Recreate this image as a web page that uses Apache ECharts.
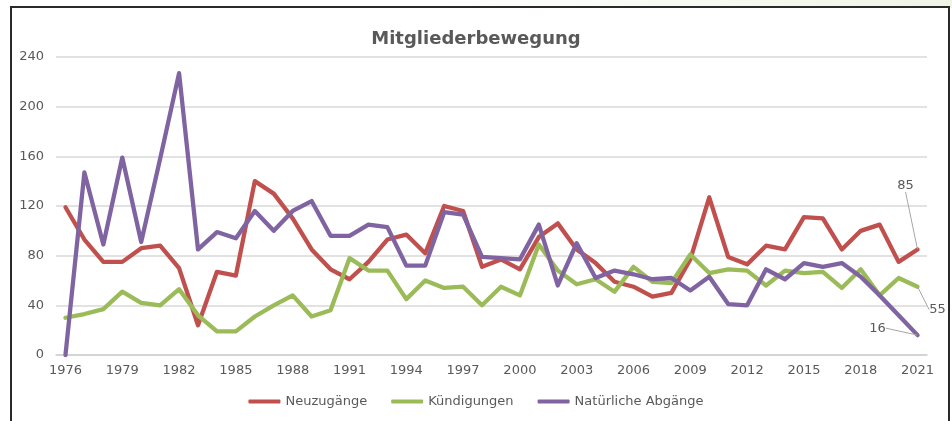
<!DOCTYPE html>
<html>
<head>
<meta charset="utf-8">
<script src="https://cdn.jsdelivr.net/npm/echarts@6/dist/echarts.min.js"></script>
<style>
  html, body { margin: 0; padding: 0; width: 952px; height: 421px; overflow: hidden; background: #fff; }
  #topband { position: absolute; left: 0; top: 0; width: 952px; height: 8px;
    background: linear-gradient(to right, #ffffff 0%, #ffffff 45%, #eef5e5 100%); }
  #frame { position: absolute; left: 10px; top: 6px; width: 936px; height: 430px;
    border: 2px solid #2a2a2a; background: #fff; }
  #chart { position: absolute; left: 0; top: 0; width: 952px; height: 421px; }
</style>
</head>
<body>
<div id="topband"></div>
<div id="frame"></div>
<div id="chart"></div>
<script>
const years = ['1976', '1977', '1978', '1979', '1980', '1981', '1982', '1983', '1984', '1985',
    '1986', '1987', '1988', '1989', '1990', '1991', '1992', '1993', '1994', '1995',
    '1996', '1997', '1998', '1999', '2000', '2001', '2002', '2003', '2004', '2005',
    '2006', '2007', '2008', '2009', '2010', '2011', '2012', '2013', '2014', '2015',
    '2016', '2017', '2018', '2019', '2020', '2021']
const neuzugaenge = [119, 93, 75, 75, 86, 88, 70, 24, 67, 64,
    140, 130, 110, 85, 69, 61, 75, 93, 97, 82,
    120, 116, 71, 77, 69, 95, 106, 85, 74, 59,
    55, 47, 50, 77, 127, 79, 73, 88, 85, 111,
    110, 85, 100, 105, 75, 85]
const kuendigungen = [30, 33, 37, 51, 42, 40, 53, 32, 19, 19,
    31, 40, 48, 31, 36, 78, 68, 68, 45, 60,
    54, 55, 40, 55, 48, 89, 68, 57, 61, 51,
    71, 59, 58, 81, 66, 69, 68, 56, 68, 66,
    67, 54, 69, 48, 62, 55]
const abgaenge = [0, 147, 89, 159, 91, 158, 227, 85, 99, 94,
    116, 100, 116, 124, 96, 96, 105, 103, 72, 72,
    115, 113, 79, 78, 77, 105, 56, 90, 62, 68,
    65, 61, 62, 52, 63, 41, 40, 69, 61, 74,
    71, 74, 63, 48, 32, 16]
const seriesNames = ['Neuzugänge', 'Kündigungen', 'Natürliche Abgänge']
const colors = ['#C0504D', '#9BBB59', '#8064A2']

const textColor = '#595959'
const fontFamily = 'DejaVu Sans'

// nur der letzte Punkt bekommt ein Label (mit winzigem Symbol, sonst zeichnet echarts kein Label)
function withLastLabel(values, color) {
    return values.map((v, i) => {
        if (i !== values.length - 1) return v
        return {
            value: v,
            symbol: 'circle',
            symbolSize: 1,
            itemStyle: { color },
            label: { show: true, position: 'top', distance: 5, color: textColor, fontSize: 13, fontFamily },
            labelLine: { show: true, smooth: false, lineStyle: { color: '#a6a6a6', width: 1 } }
        }
    })
}

function makeSeries(name, values, color, shift) {
    return {
        name,
        type: 'line',
        data: withLastLabel(values, color),
        symbol: 'none',
        showSymbol: true,
        lineStyle: { width: 4.3, color, cap: 'round', join: 'round' },
        itemStyle: { color },
        labelLine: { show: true, smooth: false, lineStyle: { color: '#a6a6a6', width: 1 } },
        labelLayout: { dx: shift[0], dy: shift[1] },
        emphasis: { disabled: true }
    }
}

const option = {
    animation: false,
    color: colors,
    title: {
        text: 'Mitgliederbewegung',
        left: 'center',
        top: 25,
        textStyle: { color: textColor, fontSize: 18, fontWeight: 'bold', fontFamily }
    },
    legend: {
        data: seriesNames,
        bottom: 8,
        left: 'center',
        icon: 'roundRect',
        itemWidth: 32,
        itemHeight: 4,
        itemGap: 24,
        textStyle: { color: textColor, fontSize: 13, fontFamily }
    },
    grid: { left: 56, right: 25, top: 57, bottom: 66 },
    xAxis: {
        type: 'category',
        data: years,
        boundaryGap: true,
        axisLine: { lineStyle: { color: '#d0d0d0', width: 1.5 } },
        axisTick: { interval: 3, inside: true, length: 4, lineStyle: { color: '#d0d0d0' } },
        axisLabel: { interval: 2, color: textColor, fontSize: 13, fontFamily, margin: 9 }
    },
    yAxis: {
        type: 'value',
        min: 0,
        max: 240,
        interval: 40,
        axisLine: { show: false },
        axisTick: { show: false },
        axisLabel: { color: textColor, fontSize: 13, fontFamily, margin: 12 },
        splitLine: { lineStyle: { color: '#d9d9d9', width: 1.5 } }
    },
    series: [
        makeSeries(seriesNames[0], neuzugaenge, colors[0], [-12, -52]),
        makeSeries(seriesNames[1], kuendigungen, colors[1], [20, 35]),
        makeSeries(seriesNames[2], abgaenge, colors[2], [-40, 5])
    ]
}

const chart = echarts.init(document.getElementById('chart'))
chart.setOption(option)
</script>
</body>
</html>
